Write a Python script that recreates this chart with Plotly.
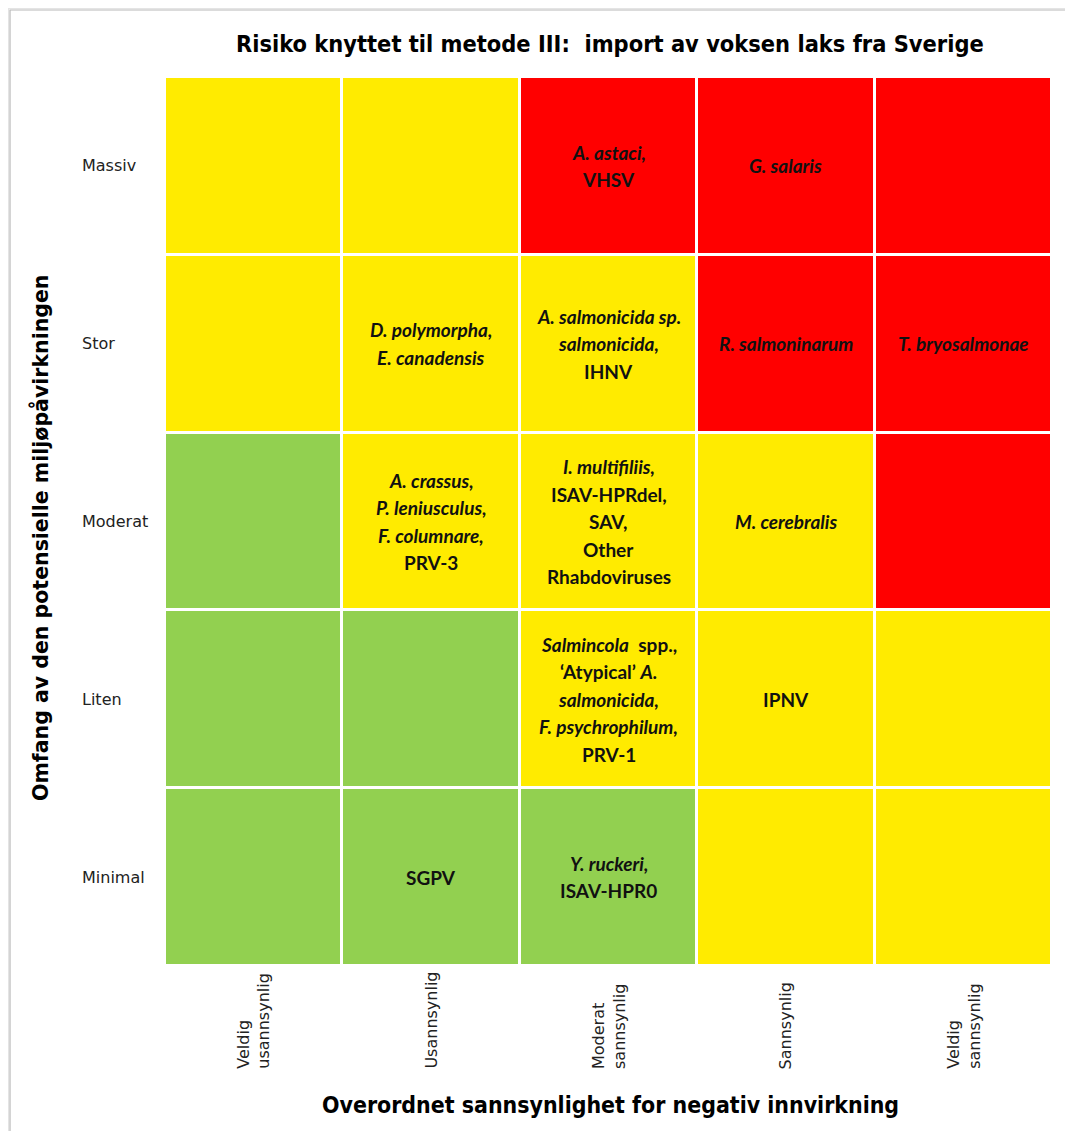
import plotly.graph_objects as go

# ---- data ----
prob_labels = ["Veldig usannsynlig", "Usannsynlig", "Moderat sannsynlig", "Sannsynlig", "Veldig sannsynlig"]
prob_tick_text = ["Veldig<br>usannsynlig", "Usannsynlig", "Moderat<br>sannsynlig", "Sannsynlig", "Veldig<br>sannsynlig"]
impact_labels = ["Minimal", "Liten", "Moderat", "Stor", "Massiv"]  # bottom -> top

# risk level: 0 = green, 1 = yellow, 2 = red ; rows follow impact_labels
risk_minimal = [0, 0, 0, 1, 1]
risk_liten = [0, 0, 1, 1, 1]
risk_moderat = [0, 1, 1, 1, 2]
risk_stor = [1, 1, 1, 2, 2]
risk_massiv = [1, 1, 2, 2, 2]

# cell texts (list of lines) per row, per probability column
text_minimal = [[], ["SGPV"], ["<i>Y. ruckeri,</i>", "ISAV-HPR0"], [], []]
text_liten = [[], [], ["<i>Salmincola</i>  spp.,", "‘Atypical’ <i>A.</i>", "<i>salmonicida,</i>",
                       "<i>F. psychrophilum,</i>", "PRV-1"], ["IPNV"], []]
text_moderat = [[], ["<i>A. crassus,</i>", "<i>P. leniusculus,</i>", "<i>F. columnare,</i>", "PRV-3"],
                ["<i>I. multifiliis,</i>", "ISAV-HPRdel,", "SAV,", "Other", "Rhabdoviruses"],
                ["<i>M. cerebralis</i>"], []]
text_stor = [[], ["<i>D. polymorpha,</i>", "<i>E. canadensis</i>"],
             ["<i>A. salmonicida sp.</i>", "<i>salmonicida,</i>", "IHNV"],
             ["<i>R. salmoninarum</i>"], ["<i>T. bryosalmonae</i>"]]
text_massiv = [[], [], ["<i>A. astaci,</i>", "VHSV"], ["<i>G. salaris</i>"], []]

title_text = "Risiko knyttet til metode III:\u00a0\u00a0import av voksen laks fra Sverige"
x_title = "Overordnet sannsynlighet for negativ innvirkning"
y_title = "Omfang av den potensielle miljøpåvirkningen"

z = [risk_minimal, risk_liten, risk_moderat, risk_stor, risk_massiv]
cell_texts = [text_minimal, text_liten, text_moderat, text_stor, text_massiv]

GREEN, YELLOW, RED = "#92D050", "#FFEB00", "#FF0000"

# page body adds an 8px offset; work in reference pixels and subtract it
OFF = 8
W, H = 1073, 1131
L, R, T, B = 165 - OFF, 1073 - 1052 + OFF, 77 - OFF, 1131 - 966 + OFF
PW, PH = W - L - R, H - T - B


def px_x(p):
    return (p - OFF - L) / PW


def px_y(p):
    return (H - B - (p - OFF)) / PH


fig = go.Figure()
fig.add_trace(go.Heatmap(
    x=prob_labels, y=impact_labels, z=z,
    zmin=0, zmax=2,
    colorscale=[[0, GREEN], [0.333, GREEN], [0.333, YELLOW], [0.667, YELLOW], [0.667, RED], [1, RED]],
    showscale=False, xgap=3, ygap=3, hoverinfo="skip",
))

ann = []
cell_font = dict(family="Lato", size=19, color="#111111", weight="bold")
LS = 27.5
for r, row in enumerate(cell_texts):
    for c, lines in enumerate(row):
        n = len(lines)
        for i, line in enumerate(lines):
            off = ((n - 1) / 2 - i) * LS
            ann.append(dict(x=prob_labels[c], y=impact_labels[r], xref="x", yref="y",
                            text=line, showarrow=False, font=cell_font, yshift=off,
                            xanchor="center", yanchor="middle"))

# y category labels (left aligned)
for lab in impact_labels:
    ann.append(dict(x=px_x(80), y=lab, xref="paper", yref="y", text=lab, showarrow=False,
                    xanchor="left", yanchor="middle",
                    font=dict(family="DejaVu Sans", size=16, color="#222222")))

# x category labels (rotated)
for lab, txt in zip(prob_labels, prob_tick_text):
    ann.append(dict(x=lab, y=px_y(1071), xref="x", yref="paper", text=txt, showarrow=False,
                    textangle=-90, align="left", xanchor="center", yanchor="bottom",
                    font=dict(family="DejaVu Sans", size=16, color="#222222")))

# titles
ann.append(dict(x=px_x(610), y=px_y(44), xref="paper", yref="paper", text=title_text,
                showarrow=False, xanchor="center", yanchor="middle",
                font=dict(family="DejaVu Sans Condensed", size=23.4, color="#000000", weight="bold")))
ann.append(dict(x=px_x(610), y=px_y(1105), xref="paper", yref="paper", text=x_title,
                showarrow=False, xanchor="center", yanchor="middle",
                font=dict(family="DejaVu Sans Condensed", size=22.9, color="#000000", weight="bold")))
ann.append(dict(x=px_x(40), y=px_y(538), xref="paper", yref="paper", text=y_title,
                showarrow=False, xanchor="center", yanchor="middle", textangle=-90,
                font=dict(family="DejaVu Sans", size=20.5, color="#000000", weight="bold")))

shapes = [
    dict(type="rect", xref="paper", yref="paper", x0=px_x(7), x1=px_x(1100), y0=px_y(1150), y1=px_y(7),
         line=dict(color="#e4e4e4", width=4), fillcolor="rgba(0,0,0,0)", layer="below"),
    dict(type="rect", xref="paper", yref="paper", x0=px_x(10), x1=px_x(1100), y0=px_y(1150), y1=px_y(10),
         line=dict(color="#b8b8b8", width=1.2), fillcolor="rgba(0,0,0,0)", layer="below"),
]

fig.update_layout(
    width=W, height=H,
    margin=dict(l=L, r=R, t=T, b=B),
    paper_bgcolor="white", plot_bgcolor="white",
    showlegend=False,
    annotations=ann, shapes=shapes,
    xaxis=dict(type="category", categoryorder="array", categoryarray=prob_labels,
               showticklabels=False, showgrid=False, zeroline=False, ticks="", range=[-0.5, 4.5]),
    yaxis=dict(type="category", categoryorder="array", categoryarray=impact_labels,
               showticklabels=False, showgrid=False, zeroline=False, ticks="", range=[-0.5, 4.5]),
)

fig.write_html("out.html")
